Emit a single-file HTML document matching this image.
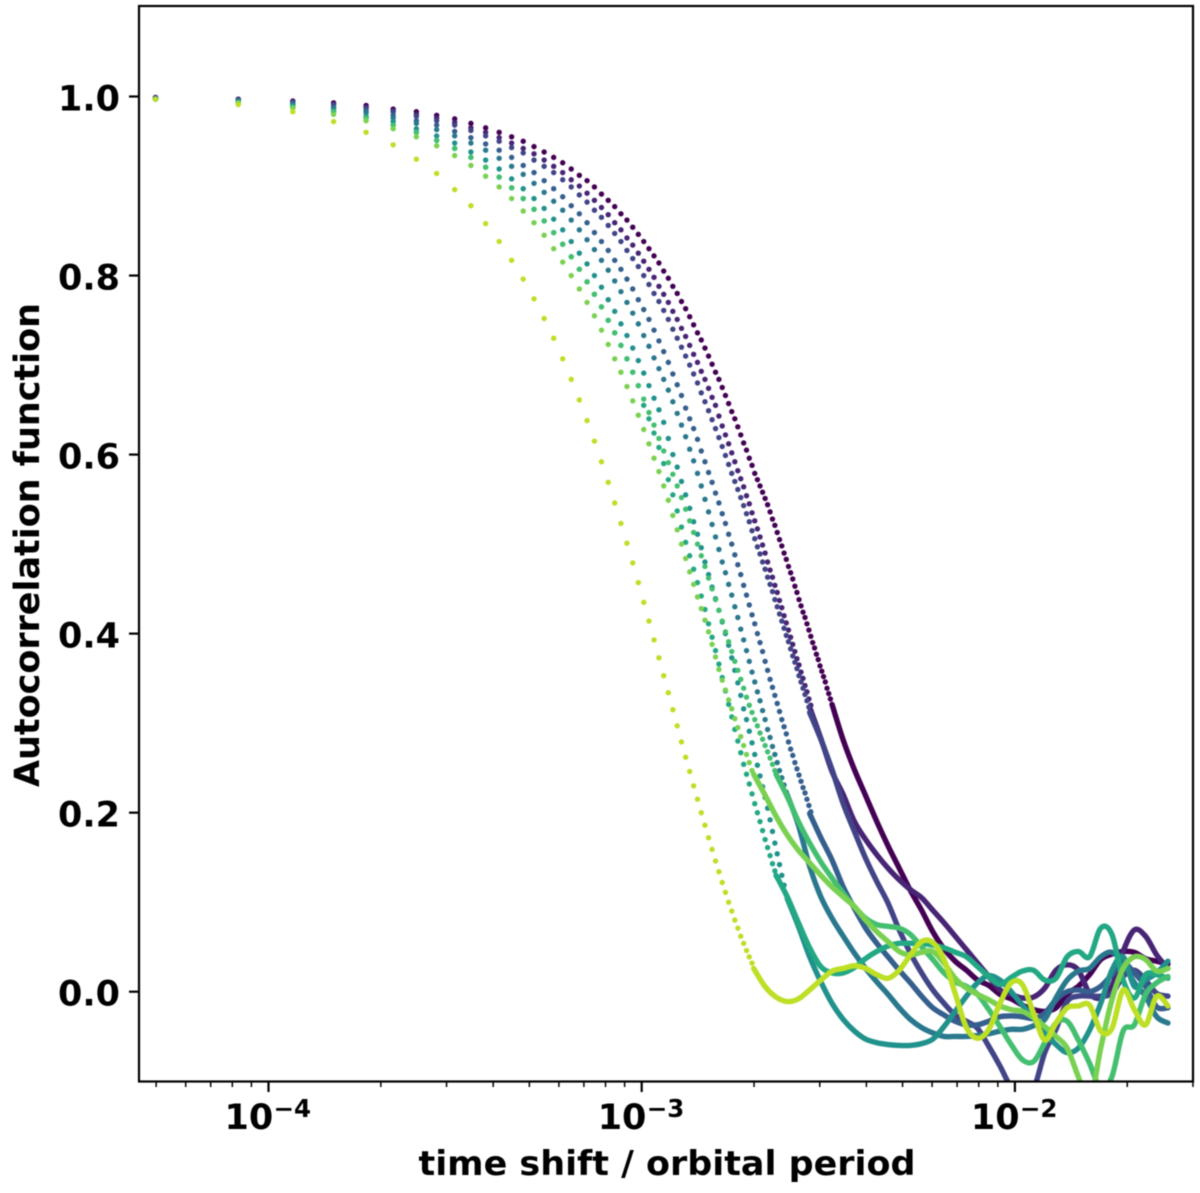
<!DOCTYPE html>
<html lang="en">
<head>
<meta charset="utf-8">
<title>Autocorrelation function</title>
<style>
html,body{margin:0;padding:0;background:#fff;}
svg{display:block;filter:blur(0.55px);}
text{font-family:"DejaVu Sans","Liberation Sans",sans-serif;font-weight:700;fill:#000;}
</style>
</head>
<body>
<svg id="chart" width="1200" height="1193" viewBox="0 0 1200 1193" xmlns="http://www.w3.org/2000/svg">
<defs><clipPath id="plot-clip"><rect x="139" y="6" width="1054" height="1075.5"/></clipPath></defs>
<rect x="0" y="0" width="1200" height="1193" fill="#fff"/>
<g id="marks" clip-path="url(#plot-clip)"></g>
<g id="ticks"></g>
<rect x="139" y="6" width="1054" height="1075.5" fill="none" stroke="#000" stroke-width="2.2"/>
<text x="667" y="1175" font-size="34" text-anchor="middle" textLength="497" lengthAdjust="spacingAndGlyphs">time shift / orbital period</text>
<text transform="translate(39 545) rotate(-90)" font-size="35" text-anchor="middle" textLength="484" lengthAdjust="spacingAndGlyphs">Autocorrelation function</text>
</svg>
<script>
const lagUnit = 3.32e-5;
const lagSteps = [1.5,2.5,3.5,4.5,5.5,6.5,7.5,8.5,9.5,10.5,11.5,12.5,13.5,14.5,15.5,16.5,17.5,18.5,19.5,20.5,21.5,22.5,23.5,24.5,25.5,26.5,27.5,28.5,29.5,30.5,31.5,32.5,33.5,34.5,35.5,36.5,37.5,38.5,39.5,40.5,41.5,42.5,43.5,44.5,45.5,46.5,47.5,48.5,49.5,50.5,51.5,52.5,53.5,54.5,55.5,56.5,57.5,58.5,59.5,60.5,61.5,62.5,63.5,64.5,65.5,66.5,67.5,68.5,69.5,70.5,71.5,72.5,73.5,74.5,75.5,76.5,77.5,78.5,79.5,80.5,81.5,82.5,83.5,84.5,85.5,86.5,87.5,88.5,89.5,90.5,91.5,92.5,93.5,94.5,95.5,96.5];
const tailLogLag = [-2.70,-2.67,-2.64,-2.61,-2.58,-2.55,-2.52,-2.49,-2.46,-2.43,-2.40,-2.37,-2.34,-2.31,-2.28,-2.25,-2.22,-2.19,-2.16,-2.13,-2.10,-2.07,-2.04,-2.01,-1.98,-1.95,-1.92,-1.89,-1.86,-1.83,-1.80,-1.77,-1.74,-1.71,-1.68,-1.65,-1.62,-1.59];

const dotsA = [.999,.997,.995,.993,.990,.986,.983,.979,.975,.970,.965,.960,.955,.950,.944,.938,.932,.926,.919,.912,.906,.899,.891,.884,.877,.869,.862,.854,.846,.838,.830,.822,.814,.805,.797,.788,.780,.771,.763,.754,.745,.736,.728,.719,.710,.701,.692,.684,.675,.666,.657,.648,.640,.631,.622,.613,.605,.596,.588,.579,.572,.565,.558,.551,.544,.536,.528,.521,.513,.505,.498,.490,.483,.475,.468,.461,.453,.446,.438,.431,.424,.418,.411,.404,.397,.390,.384,.377,.371,.364,.358,.352,.346,.339,.333,.327];
const tailA = [.321,.281,.248,.219,.190,.163,.138,.113,.091,.067,.048,.034,.024,.013,.007,-.003,-.008,-.015,-.020,-.022,-.018,-.003,.006,.019,.036,.042,.045,.044,.037,.034,.031];

const dotsB = [.999,.997,.994,.991,.988,.984,.980,.976,.971,.965,.960,.954,.948,.942,.936,.929,.922,.915,.907,.900,.892,.884,.876,.868,.859,.851,.842,.834,.825,.816,.807,.798,.788,.779,.770,.760,.751,.741,.732,.722,.712,.703,.693,.684,.674,.664,.655,.643,.632,.622,.612,.602,.592,.582,.573,.564,.554,.545,.535,.526,.517,.508,.499,.490,.480,.471,.463,.454,.446,.437,.429,.420,.412,.404,.396,.388,.380,.372,.365,.357,.350,.342,.335,.327,.320];
const tailB = [.318,.283,.246,.220,.190,.170,.153,.138,.125,.114,.105,.091,.077,.062,.047,.032,.017,.002,-.003,-.007,-.006,.004,.024,.030,.024,-.002,-.007,.006,.045,.069,.062,.041,.026];

const dotsC = [.998,.996,.994,.991,.987,.983,.978,.973,.968,.962,.956,.950,.943,.937,.929,.922,.915,.907,.899,.890,.882,.873,.865,.856,.847,.838,.828,.819,.810,.800,.790,.780,.771,.761,.751,.740,.730,.720,.710,.700,.690,.680,.669,.659,.649,.639,.629,.619,.609,.599,.589,.579,.570,.561,.552,.543,.534,.525,.515,.506,.497,.489,.480,.472,.463,.455,.447,.438,.430,.422,.414,.406,.398,.391,.383,.375,.368,.361,.353,.346,.339,.332,.325,.318,.311];
const tailC = [.312,.282,.248,.210,.179,.149,.123,.099,.069,.043,.021,.002,-.013,-.026,-.033,-.041,-.061,-.083,-.107,-.119,-.109,-.068,-.042,-.011,-.005,-.005,-.005,-.002,.017,.024,.013,-.002,-.005];

const dotsD = [.998,.996,.992,.988,.984,.979,.973,.968,.961,.954,.947,.940,.932,.923,.915,.906,.897,.888,.878,.869,.859,.848,.838,.828,.817,.807,.796,.785,.773,.762,.751,.739,.727,.715,.703,.690,.678,.666,.652,.640,.629,.617,.604,.592,.580,.569,.557,.546,.534,.523,.511,.500,.488,.477,.466,.454,.443,.432,.421,.411,.400,.390,.380,.369,.359,.349,.340,.331,.322,.313,.304,.296,.288,.279,.271,.264,.256,.249,.242,.235,.228,.222,.215,.208,.201];
const tailD = [.199,.172,.147,.117,.093,.071,.054,.039,.024,.010,-.005,-.018,-.026,-.033,-.037,-.037,-.033,-.028,-.027,-.028,-.030,-.024,-.009,.000,.002,.000,.006,.019,.032,.021,.006,-.017,-.018];

const dotsE = [.998,.995,.991,.987,.982,.976,.970,.963,.956,.948,.940,.931,.922,.913,.903,.893,.883,.873,.862,.851,.840,.829,.817,.806,.794,.782,.770,.758,.746,.733,.721,.708,.696,.684,.672,.659,.646,.633,.620,.606,.593,.579,.565,.550,.536,.522,.508,.494,.480,.468,.455,.443,.430,.418,.405,.393,.381,.369,.357,.346,.335,.325,.314,.304,.293,.284,.274,.265,.256,.247,.239,.231,.223];
const tailE = [.220,.186,.140,.106,.082,.062,.043,.026,.011,-.003,-.018,-.031,-.040,-.046,-.050,-.050,-.050,-.049,-.047,-.044,-.042,-.042,-.038,-.031,-.007,.013,.023,.026,.039,.044,.032,.010,-.005,-.028,-.035];

const dotsF = [.997,.994,.990,.984,.978,.972,.964,.956,.948,.938,.929,.919,.908,.897,.886,.875,.863,.851,.838,.825,.813,.800,.787,.773,.760,.746,.733,.719,.705,.691,.677,.663,.650,.636,.618,.600,.586,.570,.555,.540,.525,.511,.496,.480,.466,.452,.439,.426,.413,.400,.387,.373,.359,.345,.331,.316,.304,.291,.278,.265,.253,.241,.229,.217,.205,.192,.179,.166,.154,.142,.130,.119,.108];
const tailF = [.104,.073,.039,.011,-.013,-.031,-.044,-.053,-.057,-.059,-.060,-.060,-.058,-.053,-.039,-.022,-.005,.010,.018,.013,.000,-.015,-.029,-.046,-.059,-.068,-.063,-.043,-.013,.024,.039,.006,.013,.021,.034];

const dotsG = [.997,.993,.988,.983,.976,.968,.960,.951,.942,.932,.921,.910,.898,.886,.874,.861,.848,.835,.821,.807,.793,.779,.765,.750,.736,.722,.707,.692,.677,.655,.640,.624,.608,.590,.572,.555,.537,.519,.502,.487,.472,.457,.442,.427,.411,.396,.381,.366,.351,.336,.321,.307,.293,.280,.267,.254,.243,.232,.221,.210,.200,.190,.180,.170,.161,.152,.143,.135];
const tailG = [.130,.106,.077,.049,.028,.021,.021,.027,.037,.045,.051,.054,.054,.054,.052,.049,.044,.039,.028,.017,.008,.016,.023,.024,.013,.015,.039,.045,.039,.071,.064,.013,-.007,.019,.019,.015];

const dotsH = [.997,.993,.988,.983,.976,.968,.960,.951,.942,.932,.921,.910,.898,.886,.874,.861,.848,.835,.821,.807,.793,.779,.765,.750,.736,.722,.707,.692,.677,.662,.647,.633,.618,.604,.591,.578,.565,.552,.539,.526,.513,.500,.487,.475,.462,.450,.438,.426,.414,.402,.391,.380,.369,.359,.349,.339,.329,.320,.312,.304,.297,.289,.282,.275,.268,.261,.254,.247];
const tailH = [.243,.218,.190,.166,.145,.127,.110,.095,.082,.075,.073,.071,.064,.050,.036,.021,.011,.006,-.003,-.020,-.039,-.059,-.076,-.078,-.057,-.035,-.033,-.054,-.080,-.108,-.095,-.044,-.037,-.003,.010,.017];

const dotsI = [.997,.993,.987,.980,.973,.964,.955,.945,.934,.923,.911,.899,.886,.872,.859,.845,.830,.815,.800,.785,.770,.755,.739,.723,.707,.692,.676,.660,.644,.628,.612,.596,.581,.565,.549,.532,.516,.500,.484,.469,.455,.441,.428,.415,.402,.388,.374,.360,.348,.337,.326,.316,.305,.295,.285,.275,.265,.256,.247];
const tailI = [.243,.220,.196,.175,.158,.144,.130,.117,.106,.095,.080,.067,.056,.045,.041,.044,.045,.032,.015,.004,-.003,-.009,-.016,-.020,-.022,-.029,-.039,-.050,-.063,-.095,-.124,-.063,-.009,.026,.039,.036,.023,.026];

const dotsJ = [.997,.991,.983,.972,.960,.946,.930,.914,.896,.878,.858,.838,.817,.796,.774,.752,.730,.707,.684,.661,.638,.615,.592,.569,.546,.523,.501,.479,.457,.435,.414,.393,.373,.353,.334,.315,.297,.279,.262,.246,.230,.215,.200,.186,.172,.159,.146,.134,.122,.111,.100,.090,.080,.071,.062,.054,.046,.039,.032];
const tailJ = [.026,.006,-.006,-.011,-.008,.002,.013,.023,.026,.029,.026,.019,.015,.024,.041,.056,.055,.036,-.002,-.040,-.052,-.042,-.013,.010,.008,-.024,-.054,-.035,-.018,-.016,-.015,-.044,-.041,.002,-.020,-.037,-.005,-.016];

const seriesDots = [dotsA,dotsB,dotsC,dotsD,dotsE,dotsF,dotsG,dotsH,dotsI,dotsJ];
const seriesTails = [tailA,tailB,tailC,tailD,tailE,tailF,tailG,tailH,tailI,tailJ];
const seriesColors = ['#440154','#482475','#414487','#355f8d','#2a788e','#21918c','#22a884','#44bf70','#7ad151','#bddf26'];

const yTickValues = [0,0.2,0.4,0.6,0.8,1.0];
const yTickLabels = ['0.0','0.2','0.4','0.6','0.8','1.0'];
const xMajorExponents = [-4,-3,-2];
const xMajorLabels = ['\u22124','\u22123','\u22122'];
const xMinorLags = [5e-5,6e-5,7e-5,8e-5,9e-5,2e-4,3e-4,4e-4,5e-4,6e-4,7e-4,8e-4,9e-4,2e-3,3e-3,4e-3,5e-3,6e-3,7e-3,8e-3,9e-3,2e-2,3e-2];

const SVG_NS = 'http://www.w3.org/2000/svg';
function xScale(logLag){ return 268.5 + 373.2 * (logLag + 4); }
function yScale(v){ return 991.7 - 895.2 * v; }

const marksGroup = document.getElementById('marks');
const ticksGroup = document.getElementById('ticks');

function make(tag, attrs, parent){
  const el = document.createElementNS(SVG_NS, tag);
  for (const k in attrs) el.setAttribute(k, attrs[k]);
  parent.appendChild(el);
  return el;
}
function smoothPath(pts){
  let d = 'M' + pts[0][0].toFixed(2) + ' ' + pts[0][1].toFixed(2);
  for (let i = 0; i < pts.length - 1; i++){
    const p0 = pts[Math.max(i - 1, 0)], p1 = pts[i], p2 = pts[i + 1], p3 = pts[Math.min(i + 2, pts.length - 1)];
    const c1x = p1[0] + (p2[0] - p0[0]) / 6, c1y = p1[1] + (p2[1] - p0[1]) / 6;
    const c2x = p2[0] - (p3[0] - p1[0]) / 6, c2y = p2[1] - (p3[1] - p1[1]) / 6;
    d += 'C' + c1x.toFixed(2) + ' ' + c1y.toFixed(2) + ' ' + c2x.toFixed(2) + ' ' + c2y.toFixed(2) + ' ' + p2[0].toFixed(2) + ' ' + p2[1].toFixed(2);
  }
  return d;
}

seriesDots.forEach(function(values, s){
  const color = seriesColors[s];
  const group = make('g', {}, marksGroup);
  
  
  const tail = seriesTails[s];
  const offset = tailLogLag.length - tail.length;
  const points = tail.map(function(v, i){ return [xScale(tailLogLag[offset + i]), yScale(v)]; });
  const line = make('path', {d: smoothPath(points), fill: 'none', stroke: color, 'stroke-width': 5.4, 'stroke-linecap': 'round', 'stroke-linejoin': 'round'}, group);
  
  
  values.forEach(function(v, i){
    const dot = make('circle', {cx: xScale(Math.log10(lagSteps[i] * lagUnit)).toFixed(2), cy: yScale(v).toFixed(2), r: 2.7, fill: color}, group);
    
    
  });
});

yTickValues.forEach(function(v, i){
  const y = yScale(v);
  const tick = make('line', {x1: 129, x2: 139, y1: y, y2: y, stroke: '#000', 'stroke-width': 2.2}, ticksGroup);
  
  
  const label = make('text', {x: 120, y: y + 13.8, 'font-size': 35, 'text-anchor': 'end'}, ticksGroup);
  label.textContent = yTickLabels[i];
  
  
});

xMajorExponents.forEach(function(e, i){
  const x = xScale(e);
  const tick = make('line', {x1: x, x2: x, y1: 1081.5, y2: 1092, stroke: '#000', 'stroke-width': 2.2}, ticksGroup);
  
  
  const base = make('text', {x: x - 44, y: 1129, 'font-size': 35}, ticksGroup);
  base.textContent = '10';
  
  
  const power = make('text', {x: x + 5, y: 1117, 'font-size': 24.5}, ticksGroup);
  power.textContent = xMajorLabels[i];
  
  
});

xMinorLags.forEach(function(lag){
  const x = xScale(Math.log10(lag));
  const tick = make('line', {x1: x, x2: x, y1: 1081.5, y2: 1087, stroke: '#000', 'stroke-width': 1.5}, ticksGroup);
  
  
});
</script>
</body>
</html>
